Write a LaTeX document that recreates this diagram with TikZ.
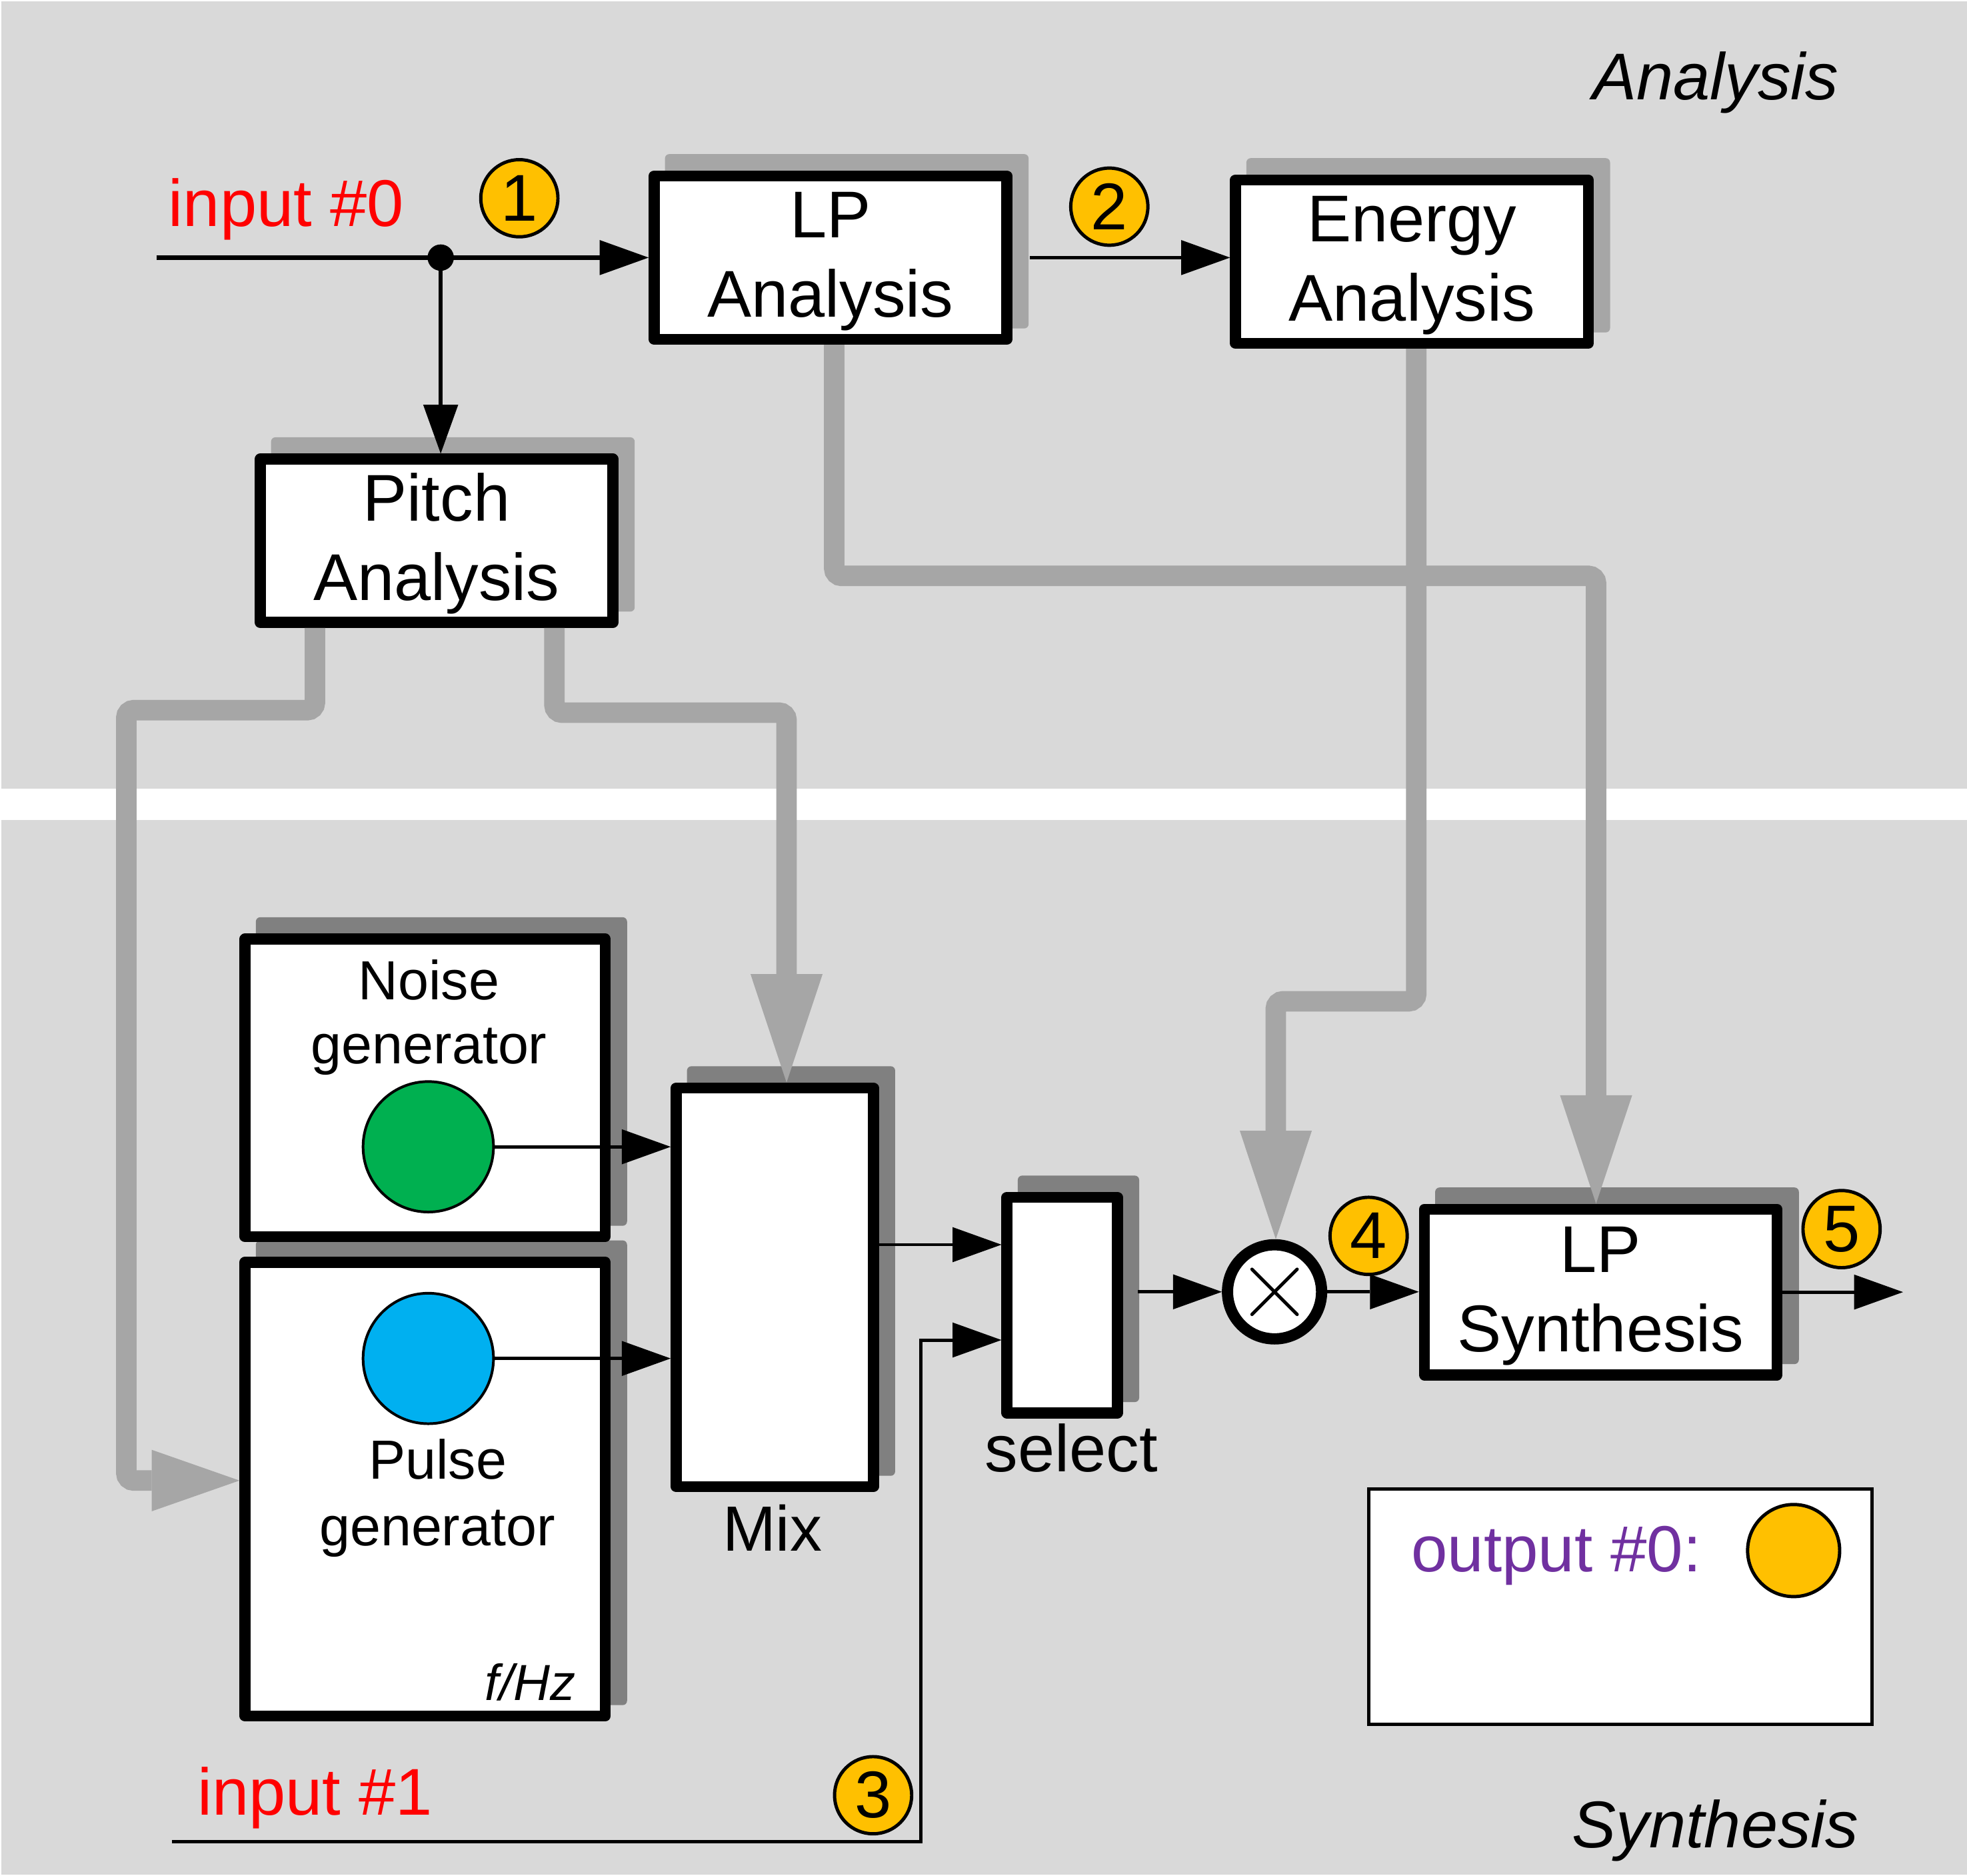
\documentclass[tikz,border=0pt]{standalone}
\usepackage{fontspec}
\setmainfont{Liberation Sans}
\usetikzlibrary{arrows.meta}
\definecolor{panelgray}{HTML}{D9D9D9}
\definecolor{gline}{HTML}{A6A6A6}
\definecolor{dsh}{HTML}{808080}
\definecolor{numy}{HTML}{FFC000}
\definecolor{ngreen}{HTML}{00B050}
\definecolor{nblue}{HTML}{00B0F0}
\definecolor{opurple}{HTML}{7030A0}
\definecolor{ired}{HTML}{FF0000}
\pgfdeclarelayer{panellayer}
\pgfdeclarelayer{shadowlayer}
\pgfsetlayers{panellayer,shadowlayer,main}
\newcommand\fthirty{\fontsize{30}{36}\selectfont}
\newcommand\ftwentynine{\fontsize{29}{35}\selectfont}
\newcommand\ftwentyfive{\fontsize{25}{30}\selectfont}
\newcommand\topstrut{\rule{0pt}{24pt}}
\newcommand\boxshadow[2]{\fill[#2,rounded corners=2pt] ([shift={(13,-13)}]#1.north west) rectangle ([shift={(13,-13)}]#1.south east);}
\tikzset{
  blk/.style={draw=black, line width=5pt, line join=round, fill=white, inner sep=0pt, align=center, font=\fthirty},
  topblk/.style={blk, minimum width=5.624cm, minimum height=2.604cm},
  gen/.style={circle, draw=black, line width=1.2pt, minimum size=2.08cm, inner sep=0pt},
  num/.style={circle, draw=black, line width=1.5pt, fill=numy, minimum size=1.23cm, inner sep=0pt, font=\fthirty},
  lbl/.style={inner sep=0pt, font=\fthirty},
  gbus/.style={draw=gline, line width=9.3pt, rounded corners=0.12cm},
  bigtip/.style={-{Triangle[length=1.73cm, width=1.15cm, line width=0pt]}},
  midtip/.style={-{Triangle[length=1.4cm, width=0.98cm, line width=0pt]}},
  arrT/.style={draw=black, line width=1.7pt, -{Triangle[length=0.78cm, width=0.56cm, line width=0pt]}},
  arrB/.style={draw=black, line width=1.5pt, -{Triangle[length=0.78cm, width=0.56cm, line width=0pt]}},
}
\begin{document}
\begin{tikzpicture}[x=0.02cm, y=-0.02cm]
\useasboundingbox (0,0) rectangle (1568,1495);

% panels
\begin{pgfonlayer}{panellayer}
  \fill[panelgray] (1,1.3) rectangle (1568,628.6);
  \fill[panelgray] (1,653.3) rectangle (1568,1494.3);
\end{pgfonlayer}

% panel titles
\node[lbl, anchor=base east, font=\fthirty\itshape] (tana) at (1466,79.5) {Analysis};
\node[lbl, anchor=base east, font=\fthirty\itshape] (tsyn) at (1482,1472.7) {Synthesis};

% analysis blocks
\node[topblk] (lpa) at (662,205.3) {\topstrut LP\\Analysis};
\node[topblk] (ea) at (1125.5,208.5) {\topstrut Energy\\Analysis};
\node[topblk] (pa) at (348,431) {\topstrut Pitch\\Analysis};

% synthesis blocks
\node[blk, minimum width=5.744cm, minimum height=4.744cm] (noise) at (338.9,867) {};
\node[blk, minimum width=5.744cm, minimum height=7.234cm] (pulse) at (338.9,1186.8) {};
\node[blk, minimum width=3.144cm, minimum height=6.354cm] (mix) at (617.6,1026) {};
\node[blk, minimum width=1.76cm, minimum height=3.436cm] (sel) at (846.7,1040.2) {};
\node[blk, minimum width=5.624cm, minimum height=2.64cm] (lps) at (1276,1029.8) {\topstrut LP\\Synthesis};

\begin{pgfonlayer}{shadowlayer}
  \boxshadow{lpa}{gline}
  \boxshadow{ea}{gline}
  \boxshadow{pa}{gline}
  \boxshadow{noise}{dsh}
  \boxshadow{pulse}{dsh}
  \boxshadow{mix}{dsh}
  \boxshadow{sel}{dsh}
  \boxshadow{lps}{dsh}
\end{pgfonlayer}

% generator contents
\node[lbl, anchor=base, font=\ftwentyfive] (tnoise) at (342,797) {Noise};
\node[lbl, anchor=base, font=\ftwentyfive] (tgen1) at (342,848) {generator};
\node[gen, fill=ngreen] (g1) at (341.4,914) {};
\node[gen, fill=nblue] (g2) at (341.4,1082.7) {};
\node[lbl, anchor=base, font=\ftwentyfive] (tpulse) at (349,1178.6) {Pulse};
\node[lbl, anchor=base, font=\ftwentyfive] (tgen2) at (348.6,1231.8) {generator};
\node[lbl, anchor=base east, font=\fontsize{23}{28}\selectfont\itshape] (fhz) at (459,1355) {f/Hz};

% labels
\node[lbl, anchor=base, font=\ftwentynine] (tmix) at (615.6,1236.3) {Mix};
\node[lbl, anchor=base] (tsel) at (854,1172.8) {select};
\node[lbl, anchor=base west, text=ired] (tin0) at (134,180.6) {input \#0};
\node[lbl, anchor=base west, text=ired] (tin1) at (157,1446.6) {input \#1};

% multiplier
\node[circle, draw=black, line width=5.1pt, fill=white, minimum size=1.5cm, inner sep=0pt] (mul) at (1016,1029.6) {};
\draw[line width=1.5pt, line cap=round] ([shift={(-18,-18)}]mul.center) -- ([shift={(18,18)}]mul.center);
\draw[line width=1.5pt, line cap=round] ([shift={(-18,18)}]mul.center) -- ([shift={(18,-18)}]mul.center);

% legend
\node[draw=black, line width=1.4pt, fill=white, minimum width=8.02cm, minimum height=3.748cm, inner sep=0pt] (leg) at (1291.7,1280.5) {};
\node[lbl, anchor=base west, text=opurple, font=\fontsize{29.6}{35}\selectfont] (tout) at (1124.6,1252.8) {output \#0:};
\node[circle, draw=black, line width=1.5pt, fill=numy, minimum size=1.468cm, inner sep=0pt] (legc) at (1429.8,1235.8) {};

% gray buses
\coordinate (a1) at (665,459);
\coordinate (a2) at (1272.3,459);
\draw[gbus, bigtip] (lpa.south -| a1) -- (a1) -- (a2) -- (a2 |- lps.north);
\coordinate (b1) at (1129,798);
\coordinate (b2) at (1017,798);
\draw[gbus, bigtip] (ea.south -| b1) -- (b1) -- (b2) -- (b2 |- mul.north);
\coordinate (c1) at (251,566);
\coordinate (c2) at (100.7,566);
\coordinate (c3) at (100.7,1180);
\draw[gbus, midtip] (pa.south -| c1) -- (c1) -- (c2) -- (c3) -- (c3 -| pulse.west);
\coordinate (d1) at (442,568);
\coordinate (d2) at (627,568);
\draw[gbus, bigtip] (pa.south -| d1) -- (d1) -- (d2) -- (d2 |- mix.north);

% black signal lines
\coordinate (in0) at (124.7,205.3);
\node[circle, fill=black, minimum size=0.42cm, inner sep=0pt] (dot) at (351.3,205.3) {};
\draw[arrT, line width=1.9pt] (in0) -- (lpa.west);
\draw[arrT] (dot.center) -- (dot |- pa.north);
\draw[arrT] ([xshift=0.28cm]lpa.east) -- (ea.west |- lpa.east);

\draw[arrB] (g1.east) -- (g1.east -| mix.west);
\draw[arrB] (g2.east) -- (g2.east -| mix.west);
\draw[arrB] ([yshift=0.68cm]mix.east) -- ([yshift=0.68cm]mix.east -| sel.west);
\coordinate (in1) at (137,1468);
\coordinate (k1) at (734,1468);
\coordinate (k2) at (734,1068);
\draw[arrB] (in1) -- (k1) -- (k2) -- (k2 -| sel.west);
\draw[arrB] ([xshift=0.24cm]sel.east |- mul.west) -- (mul.west);
\draw[arrB] (mul.east) -- (mul.east -| lps.west);
\coordinate (out) at (1517,1029.8);
\draw[arrB] (lps.east) -- (out);

% numbered markers
\node[num] (n1) at (414,158) {1};
\node[num] (n2) at (884.3,164.7) {2};
\node[num] (n3) at (696,1430.8) {3};
\node[num] (n4) at (1091,985) {4};
\node[num] (n5) at (1468,979.6) {5};
\end{tikzpicture}
\end{document}
